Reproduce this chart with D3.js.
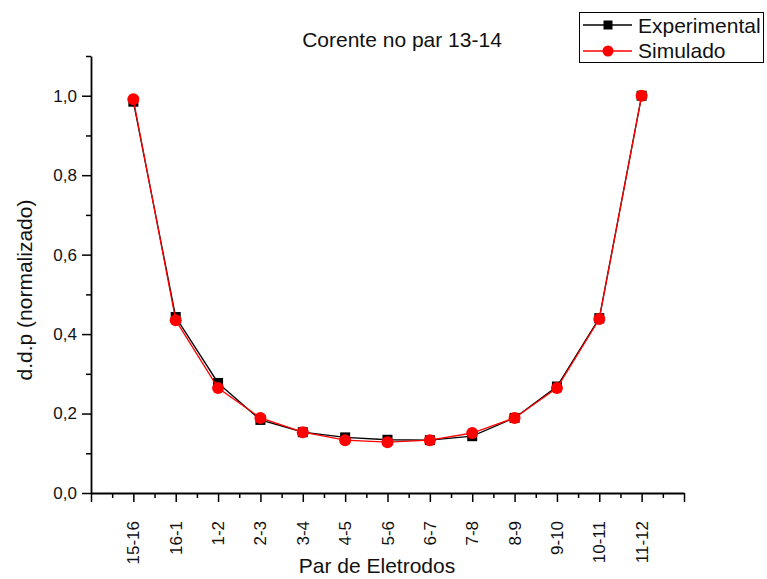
<!DOCTYPE html>
<html>
<head>
<meta charset="utf-8">
<script src="https://cdn.jsdelivr.net/npm/d3@7"></script>
<style>
  html, body { margin: 0; padding: 0; background: #fff; }
  svg { display: block; font-family: "Liberation Sans", Arial, sans-serif; }
</style>
</head>
<body>
<svg id="chart" width="767" height="579"></svg>
<script>
// Electrode pairs along the x axis
const pairs = ["15-16", "16-1", "1-2", "2-3", "3-4", "4-5", "5-6", "6-7", "7-8", "8-9", "9-10", "10-11", "11-12"];
// Normalised potential difference per pair
const experimental = [0.985, 0.443, 0.277, 0.184, 0.153, 0.140, 0.134, 0.133, 0.143, 0.189, 0.268, 0.440, 1.000];
const simulado     = [0.991, 0.435, 0.264, 0.189, 0.153, 0.133, 0.128, 0.133, 0.151, 0.189, 0.264, 0.438, 1.000];
const yMajor = [0, 0.2, 0.4, 0.6, 0.8, 1.0];
const yMinor = [0.1, 0.3, 0.5, 0.7, 0.9, 1.1];

const svg = d3.select("#chart");
const plotLeft = 91, plotRight = 684, plotTop = 56, plotBottom = 493;

const x = d3.scaleLinear().domain([0, pairs.length + 1]).range([plotLeft, plotRight]);
const y = d3.scaleLinear().domain([0, 1.1]).range([plotBottom, plotTop]);

// x axis: major ticks on every pair, minor ticks between them
const xMajor = d3.range(0, pairs.length + 2);
const xMinor = d3.range(0.5, pairs.length + 1, 1);

const gx = svg.append("g").attr("transform", `translate(0,${plotBottom})`);
gx.call(d3.axisBottom(x).tickValues(xMajor).tickSize(9).tickSizeOuter(0).tickFormat(() => ""));
gx.append("g").call(d3.axisBottom(x).tickValues(xMinor).tickSize(5).tickSizeOuter(0).tickFormat(() => ""))
  .select(".domain").remove();
gx.selectAll("line").attr("stroke", "#000").attr("stroke-width", 1.5);
gx.select(".domain").attr("stroke", "#000").attr("stroke-width", 1.8);

// rotated pair labels, right-aligned toward the axis
svg.append("g").selectAll("text")
  .data(pairs)
  .join("text")
  .attr("transform", (d, i) => `translate(${x(i + 1) + 6},521) rotate(-90)`)
  .attr("text-anchor", "end")
  .attr("font-size", 17)
  .attr("fill", "#111")
  .text(d => d);

// y axis
const gy = svg.append("g").attr("transform", `translate(${plotLeft},0)`);
gy.call(d3.axisLeft(y).tickValues(yMajor).tickSize(9).tickSizeOuter(0).tickPadding(5)
  .tickFormat(d => d.toFixed(1).replace(".", ",")));
gy.append("g").call(d3.axisLeft(y).tickValues(yMinor).tickSize(5).tickSizeOuter(0).tickFormat(() => ""))
  .select(".domain").remove();
gy.select(".domain").attr("stroke", "#000").attr("stroke-width", 1.8);
gy.selectAll("line").attr("stroke", "#000").attr("stroke-width", 1.5);
gy.selectAll("text").attr("font-size", 17).attr("fill", "#111").attr("font-family", "Liberation Sans, Arial, sans-serif");

// axis titles
svg.append("text")
  .attr("x", 377).attr("y", 573)
  .attr("text-anchor", "middle").attr("font-size", 21).attr("fill", "#111")
  .text("Par de Eletrodos");
svg.append("text")
  .attr("transform", "translate(32,290) rotate(-90)")
  .attr("text-anchor", "middle").attr("font-size", 21).attr("fill", "#111")
  .text("d.d.p (normalizado)");

// chart title
svg.append("text")
  .attr("x", 402).attr("y", 47)
  .attr("text-anchor", "middle").attr("font-size", 21).attr("fill", "#111")
  .text("Corente no par 13-14");

const line = d3.line().x((d, i) => x(i + 1)).y(d => y(d));

// Experimental series: black line with squares
svg.append("path").datum(experimental)
  .attr("d", line).attr("fill", "none").attr("stroke", "#000").attr("stroke-width", 1.3);
svg.append("g").selectAll("rect")
  .data(experimental)
  .join("rect")
  .attr("x", (d, i) => x(i + 1) - 5).attr("y", d => y(d) - 5)
  .attr("width", 10).attr("height", 10).attr("fill", "#000");

// Simulated series: red line with circles
svg.append("path").datum(simulado)
  .attr("d", line).attr("fill", "none").attr("stroke", "#ff0000").attr("stroke-width", 1.3);
svg.append("g").selectAll("circle")
  .data(simulado)
  .join("circle")
  .attr("cx", (d, i) => x(i + 1)).attr("cy", d => y(d))
  .attr("r", 6).attr("fill", "#ff0000");

// legend
const lg = svg.append("g");
lg.append("rect").attr("x", 579.5).attr("y", 12.5).attr("width", 184).attr("height", 50)
  .attr("fill", "#fff").attr("stroke", "#000").attr("stroke-width", 1);
lg.append("line").attr("x1", 583).attr("x2", 632).attr("y1", 25).attr("y2", 25)
  .attr("stroke", "#000").attr("stroke-width", 1.3);
lg.append("rect").attr("x", 603.5).attr("y", 20.5).attr("width", 9).attr("height", 9).attr("fill", "#000");
lg.append("text").attr("x", 638).attr("y", 33).attr("font-size", 21).attr("fill", "#111").text("Experimental");
lg.append("line").attr("x1", 583).attr("x2", 632).attr("y1", 51).attr("y2", 51)
  .attr("stroke", "#ff0000").attr("stroke-width", 1.3);
lg.append("circle").attr("cx", 608).attr("cy", 51).attr("r", 5.5).attr("fill", "#ff0000");
lg.append("text").attr("x", 638).attr("y", 58).attr("font-size", 21).attr("fill", "#111").text("Simulado");
</script>
</body>
</html>
